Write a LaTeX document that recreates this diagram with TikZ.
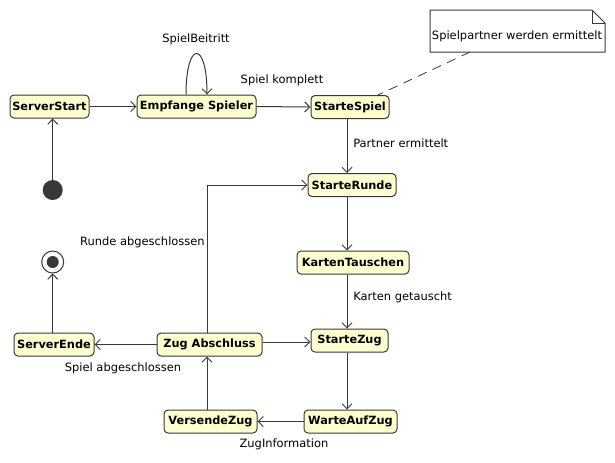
\documentclass[tikz,border=0pt]{standalone}
\usepackage{fontspec}
\setmainfont{DejaVu Sans}
\usetikzlibrary{arrows.meta,calc}
\definecolor{ln}{HTML}{383838}
\definecolor{stfill}{HTML}{FEFECE}
\tikzset{
  st/.style={draw=ln, fill=stfill, rounded corners=3pt, line width=0.75pt,
    minimum height=17.25pt, inner sep=0pt, font=\fontsize{8.5}{10}\selectfont\bfseries},
  lbl/.style={inner sep=0pt, font=\fontsize{8.6}{10}\selectfont},
  tr/.style={draw=ln, line width=0.75pt, -{Straight Barb[length=3.8pt,width=7.5pt]}},
}
\begin{document}
\begin{tikzpicture}[x=0.75pt,y=-0.75pt]
\useasboundingbox (0,0) rectangle (615,462);
% states
\node[st, minimum width=59.25pt] (ss) at (49.5,106.5) {ServerStart};
\node[st, minimum width=89.25pt] (es) at (196.5,106.5) {Empfange Spieler};
\node[st, minimum width=58.5pt] (sp) at (350,107) {StarteSpiel};
\node[st, minimum width=66pt] (sr) at (352,185) {StarteRunde};
\node[st, minimum width=84pt] (kt) at (353,262.5) {KartenTauschen};
\node[st, minimum width=57.75pt] (sz) at (349.5,340.5) {StarteZug};
\node[st, minimum width=60pt] (se) at (54,344.5) {ServerEnde};
\node[st, minimum width=78.75pt] (za) at (209.5,344.5) {Zug Abschluss};
\node[st, minimum width=69.75pt] (vz) at (210.5,421.5) {VersendeZug};
\node[st, minimum width=69.75pt] (wz) at (350.5,421.5) {WarteAufZug};
% initial and final
\node[circle, fill=ln, minimum size=15pt, inner sep=0pt] (init) at (52.7,190) {};
\node[circle, draw=ln, line width=0.75pt, fill=white, minimum size=16.5pt, inner sep=0pt] (fin) at (52.7,262) {};
\node[circle, fill=ln, minimum size=9pt, inner sep=0pt] (finin) at (fin.center) {};
% note
\coordinate (nnw) at (430,10);
\coordinate (nse) at (605,52);
\coordinate (nfold) at (592,10);
\draw[draw=ln, line width=0.75pt, fill=white]
  (nnw) -- (nfold) -- (605,23) -- (nse) -- (nnw |- nse) -- cycle;
\draw[draw=ln, line width=0.75pt]
  (nfold) -- (592,23) -- (605,23);
\node[lbl] (notetext) at (517,36) {Spielpartner werden ermittelt};
\draw[draw=ln, line width=0.6pt, dash pattern=on 7pt off 5pt] (470,52) -- (sp.north -| 378,0);
% transitions
\draw[tr] (init) -- (init |- ss.south);
\draw[tr] (ss.east) -- (es.west);
\draw[tr] (es.north -| 186,0) .. controls (186,40) and (207,40) .. (es.north -| 207,0);
\draw[tr] (es.east) -- (sp.west);
\draw[tr] (sp.south -| 347,0) -- (sr.north -| 347,0);
\draw[tr] (sr.south -| 347,0) -- (kt.north -| 347,0);
\draw[tr] (kt.south -| 347,0) -- (sz.north -| 347,0);
\draw[tr] (sz.south -| 347,0) -- (wz.north -| 347,0);
\draw[tr] (wz.west) -- (vz.east);
\draw[tr] (vz.north -| 207,0) -- (za.south -| 207,0);
\draw[tr] (za.east |- 0,342) -- (sz.west |- 0,342);
\draw[tr] (za.west) -- (se.east);
\draw[tr] (se.north -| fin) -- (fin.south);
\draw[tr] (za.north -| 207,0) |- (sr.west);
% labels
\node[lbl] (l1) at (196,39) {SpielBeitritt};
\node[lbl] (l2) at (282,80) {Spiel komplett};
\node[lbl, anchor=west] (l3) at (353,143) {Partner ermittelt};
\node[lbl, anchor=west] (l4) at (353,297) {Karten getauscht};
\node[lbl, anchor=east] (l5) at (205,242) {Runde abgeschlossen};
\node[lbl] (l6) at (123,368) {Spiel abgeschlossen};
\node[lbl] (l7) at (284,444) {ZugInformation};
\end{tikzpicture}
\end{document}
